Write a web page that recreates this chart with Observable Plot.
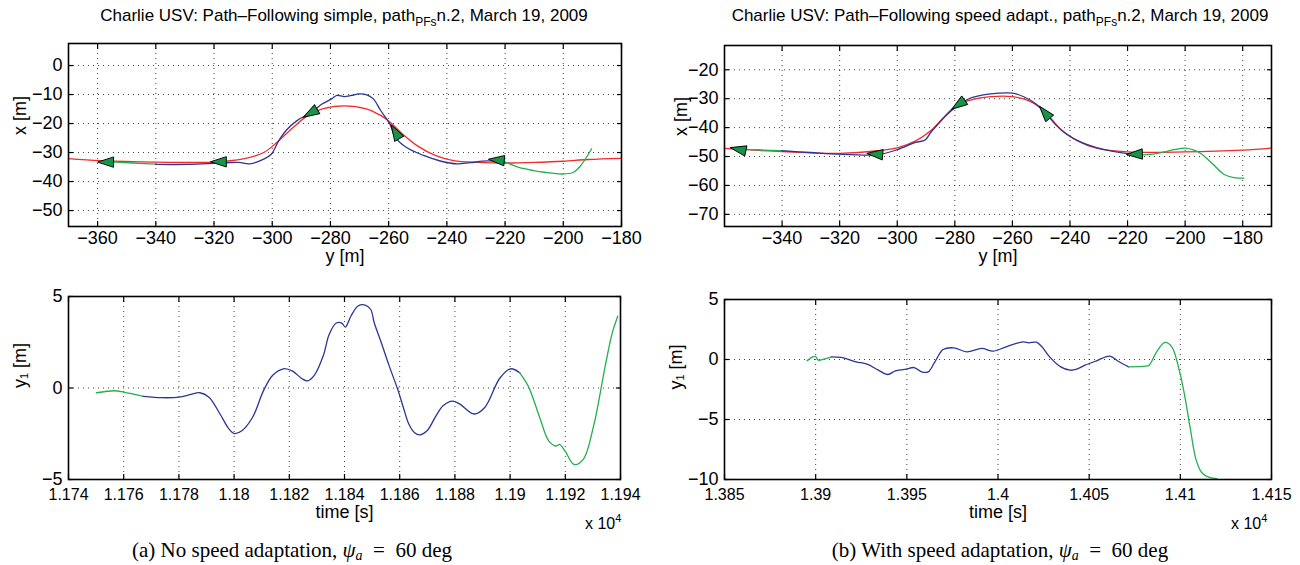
<!DOCTYPE html>
<html><head><meta charset="utf-8">
<script src="https://cdn.jsdelivr.net/npm/d3@7"></script>
<script src="https://cdn.jsdelivr.net/npm/@observablehq/plot@0.6"></script>
<style>
body{margin:0;background:#fff;font-family:"Liberation Sans",Arial,sans-serif;}
#root{position:relative;width:1300px;height:565px;overflow:hidden;background:#fff;}
.abs{position:absolute;white-space:nowrap;}
.title{font-size:17px;transform:translateX(-50%);line-height:18px;}
.title sub{font-size:12px;vertical-align:-5px;line-height:0;}
.cap{font-family:"Liberation Serif","Times New Roman",serif;font-size:21px;transform:translateX(-50%);line-height:22px;}
.cap i{font-style:italic;}
.cap sub{font-size:14px;vertical-align:-3px;line-height:0;}
.mult{font-size:16px;line-height:16px;}
.mult sup{font-size:11px;vertical-align:7px;line-height:0;}
</style></head><body><div id="root"></div>
<script>
// ---------- DATA ----------
// (a) top: reference path (red), horizontal y [m], vertical x [m]
const refA_y = [-370,-359,-340,-320,-310,-302.75,-297.75,-292.75,-287.75,-282.75,-275.25,-267.75,-262.75,-259.6,-255.25,-250.25,-244,-237.75,-229,-220,-210,-200,-191.5,-180];
const refA_x = [-32.1,-32.8,-33.3,-33.3,-32.2,-29.9,-25.9,-21.3,-17.2,-14.9,-13.9,-14.9,-17.2,-19.5,-23.6,-27.6,-31.0,-32.8,-33.4,-33.6,-33.4,-33.0,-32.4,-32.0];
// (a) vehicle path, three segments
const pathA1_y = [-357,-352,-346,-340];
const pathA1_x = [-33.2,-33.4,-33.7,-34.0];
const pathA2_y = [-340,-329,-320,-317.75,-311.5,-307.75,-302.75,-300.25,-297.75,-295.25,-291.5,-286.5,-282.75,-279.6,-277.75,-275.25,-272.75,-270.25,-267.75,-265.25,-262.75,-259.6,-257.75,-254,-248,-242,-236.5,-232,-226,-220];
const pathA2_x = [-34.1,-34.1,-33.7,-33.6,-33.4,-33.9,-32.2,-30.5,-25.9,-22.4,-19,-16.1,-13.2,-11.5,-10.3,-10.7,-10.3,-9.8,-10,-11.5,-15.5,-20.1,-24.7,-28.2,-31,-33,-33.9,-33.5,-32.9,-33.3];
const pathA3_y = [-220,-215.25,-210.25,-206.5,-200.25,-196.5,-194,-190.25];
const pathA3_x = [-33.3,-35.1,-36.2,-36.8,-37.4,-36.8,-34.5,-28.7];
const arrowA_y = [-356.75,-318,-286.5,-257.5,-222.5];
const arrowA_x = [-33.3,-33.2,-16.2,-23.3,-32.6];
const arrowA_deg = [-90,-90,-120,-30,-85];

// (b) top
const refB_y = [-360,-340,-320,-306.7,-299.7,-293.6,-288.4,-284.4,-279.9,-275.3,-267.5,-259.9,-254.4,-250.5,-246.5,-242.6,-237.4,-230.8,-220,-200,-180,-170];
const refB_x = [-47.2,-48.3,-48.9,-48.0,-46.9,-44.6,-41.1,-37,-32.7,-30.7,-29.3,-29.3,-30.7,-33,-37,-41.1,-44.6,-47.1,-48.4,-48.4,-47.8,-47.1];
const pathB1_y = [-355,-352.4,-346,-340];
const pathB1_x = [-47.5,-47.5,-47.8,-48.0];
const pathB2_y = [-340,-330.2,-320,-309.3,-305.4,-299.7,-293.6,-290.3,-288.4,-285.8,-283.1,-279.9,-275.3,-270.1,-264.8,-259.9,-255.7,-251.8,-248.5,-245.2,-241.3,-236,-230.8,-225,-220,-215.2];
const pathB2_x = [-48,-48.6,-49.2,-49.5,-49.2,-47.5,-45.1,-44.3,-41.7,-38.8,-35.9,-33,-30.1,-28.7,-28.1,-28.1,-29.5,-31.8,-34.7,-38.8,-42.2,-45.1,-46.9,-48.2,-49,-49.4];
const pathB3_y = [-215.2,-211.3,-207.3,-203.4,-199.9,-196.9,-194.2,-190.3,-186.4,-183.1,-179.6];
const pathB3_x = [-49.4,-49.2,-48.4,-47.5,-47.1,-47.8,-49.2,-52.7,-56.2,-57.3,-57.5];
const arrowB_y = [-354.8,-307.3,-278.4,-248.5,-217.1];
const arrowB_x = [-47.6,-49.2,-31.8,-35.1,-49.2];
const arrowB_deg = [-78,-85,-125,-40,-92];

// (a) bottom: cross-track error y1 vs time [s]
const errA1_t = [11750.1,11756.7,11760,11767.2];
const errA1_v = [-0.26,-0.15,-0.22,-0.46];
const errA2_t = [11767.2,11773.8,11780.1,11784.3,11787.6,11790.9,11794.9,11798.2,11800.1,11802.8,11806.7,11810.7,11814,11817.9,11821.2,11824.5,11826.7,11829.1,11832.4,11834.4,11837,11839,11840.3,11842.3,11844.9,11847.5,11849.5,11850.8,11853.4,11856.1,11859.4,11861.3,11863.3,11865.3,11867.3,11869.9,11873.2,11875.8,11879.1,11881.7,11887,11890.9,11896.2,11900.2,11903.5];
const errA2_v = [-0.46,-0.53,-0.5,-0.35,-0.26,-0.5,-1.42,-2.25,-2.49,-2.34,-1.6,-0.13,0.7,1.05,0.92,0.52,0.39,0.7,1.8,2.91,3.55,3.55,3.33,3.92,4.48,4.53,4.29,3.55,2.45,1.25,-0.13,-1.05,-1.97,-2.43,-2.56,-2.34,-1.51,-0.96,-0.72,-0.87,-1.42,-1.05,0.52,1.05,0.83];
const errA3_t = [11903.5,11906.7,11910.7,11914,11916.6,11917.9,11919.9,11923.2,11926.5,11930.4,11934.4,11937,11939];
const errA3_v = [0.83,0.06,-1.6,-2.89,-3.17,-3.08,-3.44,-4.18,-3.9,-1.97,1.16,3.0,3.92];

// (b) bottom
const errB1_t = [13895.3,13898.4,13900,13901.4,13904.5,13908.7];
const errB1_v = [-0.11,0.22,0.25,-0.06,0.03,0.22];
const errB2_t = [13908.7,13913.8,13922.1,13928.2,13934.4,13939.6,13943.7,13948.9,13954,13958.1,13961.7,13965.4,13969.9,13975.7,13982.9,13991.1,13997.3,14004.5,14013.8,14016.9,14021,14024.1,14028.3,14034.4,14039.6,14042.7,14047.8,14054,14061.3,14066.4,14071.6];
const errB2_v = [0.22,0.17,-0.19,-0.39,-0.89,-1.25,-0.94,-0.83,-0.67,-1.03,-1.03,-0.19,0.83,0.97,0.64,0.92,0.69,1.06,1.47,1.39,1.44,1.06,0.22,-0.61,-0.89,-0.83,-0.47,-0.11,0.28,-0.19,-0.61];
const errB3_t = [14071.6,14080.8,14082.9,14087,14091.6,14095.3,14099.4,14102.5,14105.6,14108.7,14111.8,14115.9,14120];
const errB3_v = [-0.61,-0.56,-0.47,0.64,1.42,1.06,-0.89,-3.11,-5.89,-8.39,-9.44,-9.83,-9.92];

// tick values
const ticksTopA_x = [-360,-340,-320,-300,-280,-260,-240,-220,-200,-180];
const ticksTopA_y = [-50,-40,-30,-20,-10,0];
const ticksTopB_x = [-340,-320,-300,-280,-260,-240,-220,-200,-180];
const ticksTopB_y = [-70,-60,-50,-40,-30,-20];
const ticksBotA_t = [11740,11760,11780,11800,11820,11840,11860,11880,11900,11920,11940];
const ticksBotA_v = [-5,0,5];
const ticksBotB_t = [13850,13900,13950,14000,14050,14100,14150];
const ticksBotB_v = [-10,-5,0,5];

// ---------- STYLE ----------
const RED = "#f22a2a", BLUE = "#2c3595", GREEN = "#22b04e", AFILL = "#169447";
const FONT = "'Liberation Sans', Arial, sans-serif";
const arrowSymbol = {draw(ctx) { ctx.moveTo(0,-9.5); ctx.lineTo(5.2,6.5); ctx.lineTo(-5.2,6.5); ctx.closePath(); }};
const pts = (xs, ys) => xs.map((v, i) => ({h: v, v: ys[i]}));
const numFmt = d => String(d).replace("-", "\u2212");

function panel({pos, frame, xDomain, yDomain, xTicks, yTicks, gridY, xFmt, xDy, xSize, xLabel, xLabelDy, yLabel, yLabelDx, series, arrows}) {
  const [sx, sy, w, h] = pos;
  const [L, T, R, B] = frame;
  const marks = [
    Plot.gridX({ticks: xTicks, stroke: "#000", strokeOpacity: 0.75, strokeDasharray: "1,4", strokeWidth: 1}),
    Plot.gridY({ticks: gridY, stroke: "#000", strokeOpacity: 0.75, strokeDasharray: "1,4", strokeWidth: 1}),
  ];
  for (const s of series) {
    marks.push(Plot.line(s.data, {x: "h", y: "v", stroke: s.color, strokeWidth: 1.3, curve: "catmull-rom"}));
  }
  if (arrows) {
    marks.push(Plot.dot(arrows, {x: "h", y: "v", rotate: "a", symbol: arrowSymbol, fill: AFILL, stroke: "#000", strokeWidth: 0.9}));
  }
  marks.push(
    Plot.axisX({anchor: "bottom", ticks: xTicks, tickSize: -5, tickFormat: () => "", label: null, strokeWidth: 1.2}),
    Plot.axisX({anchor: "top", ticks: xTicks, tickSize: -5, tickFormat: () => "", label: null, strokeWidth: 1.2}),
    Plot.axisY({anchor: "left", ticks: yTicks, tickSize: -5, tickFormat: () => "", label: null, strokeWidth: 1.2}),
    Plot.axisY({anchor: "right", ticks: yTicks, tickSize: -5, tickFormat: () => "", label: null, strokeWidth: 1.2}),
    // tick labels
    Plot.text(xTicks, {x: d => d, frameAnchor: "bottom", dy: xDy, text: xFmt, fontSize: xSize}),
    Plot.text(yTicks, {y: d => d, frameAnchor: "left", dx: -6, textAnchor: "end", text: numFmt, fontSize: 18}),
    // axis titles
    Plot.text([xLabel], {frameAnchor: "bottom", dy: xLabelDy, text: d => d, fontSize: 18}),
    Plot.text([yLabel], {frameAnchor: "left", dx: yLabelDx, rotate: -90, text: d => d, fontSize: 18}),
    Plot.frame({stroke: "#000", strokeWidth: 1.6})
  );
  const chart = Plot.plot({
    width: w, height: h,
    marginLeft: L - sx, marginTop: T - sy, marginRight: sx + w - R, marginBottom: sy + h - B,
    x: {domain: xDomain},
    y: {domain: yDomain},
    style: {background: "transparent", overflow: "visible", color: "#000", maxWidth: "none"},
    marks
  });
  chart.style.position = "absolute";
  chart.style.left = sx + "px";
  chart.style.top = sy + "px";
  chart.querySelectorAll("text").forEach(t => {
    t.style.fontFamily = FONT;
    t.style.fill = "#000";
  });
  return chart;
}

const root = document.getElementById("root");
const tFmt = d => String(+(d / 1e4).toFixed(4));

root.appendChild(panel({
  pos: [0, 0, 650, 275], frame: [68, 43, 621, 226],
  xDomain: [-370, -180], yDomain: [-55.5, 7.6],
  xTicks: ticksTopA_x, yTicks: ticksTopA_y, gridY: ticksTopA_y, xFmt: numFmt, xDy: 17, xSize: 18,
  xLabel: "y [m]", xLabelDy: 35, yLabel: "x [m]", yLabelDx: -48,
  series: [
    {data: pts(refA_y, refA_x), color: RED},
    {data: pts(pathA1_y, pathA1_x), color: GREEN},
    {data: pts(pathA2_y, pathA2_x), color: BLUE},
    {data: pts(pathA3_y, pathA3_x), color: GREEN}
  ],
  arrows: arrowA_y.map((v, i) => ({h: v, v: arrowA_x[i], a: arrowA_deg[i]}))
}));
root.appendChild(panel({
  pos: [650, 0, 650, 275], frame: [724, 45, 1271, 226],
  xDomain: [-360, -170], yDomain: [-74.2, -11.6],
  xTicks: ticksTopB_x, yTicks: ticksTopB_y, gridY: ticksTopB_y, xFmt: numFmt, xDy: 17, xSize: 18,
  xLabel: "y [m]", xLabelDy: 35, yLabel: "x [m]", yLabelDx: -43,
  series: [
    {data: pts(refB_y, refB_x), color: RED},
    {data: pts(pathB1_y, pathB1_x), color: GREEN},
    {data: pts(pathB2_y, pathB2_x), color: BLUE},
    {data: pts(pathB3_y, pathB3_x), color: GREEN}
  ],
  arrows: arrowB_y.map((v, i) => ({h: v, v: arrowB_x[i], a: arrowB_deg[i]}))
}));
root.appendChild(panel({
  pos: [0, 275, 650, 255], frame: [68, 296, 620, 479],
  xDomain: [11740, 11940], yDomain: [-5, 5],
  xTicks: ticksBotA_t, yTicks: ticksBotA_v, gridY: [0], xFmt: tFmt, xDy: 20, xSize: 16,
  xLabel: "time [s]", xLabelDy: 38, yLabel: "y₁ [m]", yLabelDx: -48,
  series: [
    {data: pts(errA1_t, errA1_v), color: GREEN},
    {data: pts(errA2_t, errA2_v), color: BLUE},
    {data: pts(errA3_t, errA3_v), color: GREEN}
  ]
}));
root.appendChild(panel({
  pos: [650, 275, 650, 255], frame: [724, 299, 1271, 479],
  xDomain: [13850, 14150], yDomain: [-10, 5],
  xTicks: ticksBotB_t, yTicks: ticksBotB_v, gridY: [-5, 0], xFmt: tFmt, xDy: 20, xSize: 16,
  xLabel: "time [s]", xLabelDy: 38, yLabel: "y₁ [m]", yLabelDx: -48,
  series: [
    {data: pts(errB1_t, errB1_v), color: GREEN},
    {data: pts(errB2_t, errB2_v), color: BLUE},
    {data: pts(errB3_t, errB3_v), color: GREEN}
  ]
}));

function addDiv(cls, html, left, top) {
  const d = document.createElement("div");
  d.className = "abs " + cls;
  d.innerHTML = html;
  d.style.left = left + "px";
  d.style.top = top + "px";
  root.appendChild(d);
}
addDiv("title", "Charlie USV: Path–Following simple, path<sub>PFs</sub>n.2, March 19, 2009", 344, 7);
addDiv("title", "Charlie USV: Path–Following speed adapt., path<sub>PFs</sub>n.2, March 19, 2009", 1000, 7);
addDiv("mult", "x 10<sup>4</sup>", 585, 516);
addDiv("mult", "x 10<sup>4</sup>", 1231, 516);
addDiv("cap", "(a) No speed adaptation, <i>ψ<sub>a</sub></i>&nbsp;&nbsp;=&nbsp;&nbsp;60 deg", 292, 539);
addDiv("cap", "(b) With speed adaptation, <i>ψ<sub>a</sub></i>&nbsp;&nbsp;=&nbsp;&nbsp;60 deg", 1000, 539);
</script></body></html>
